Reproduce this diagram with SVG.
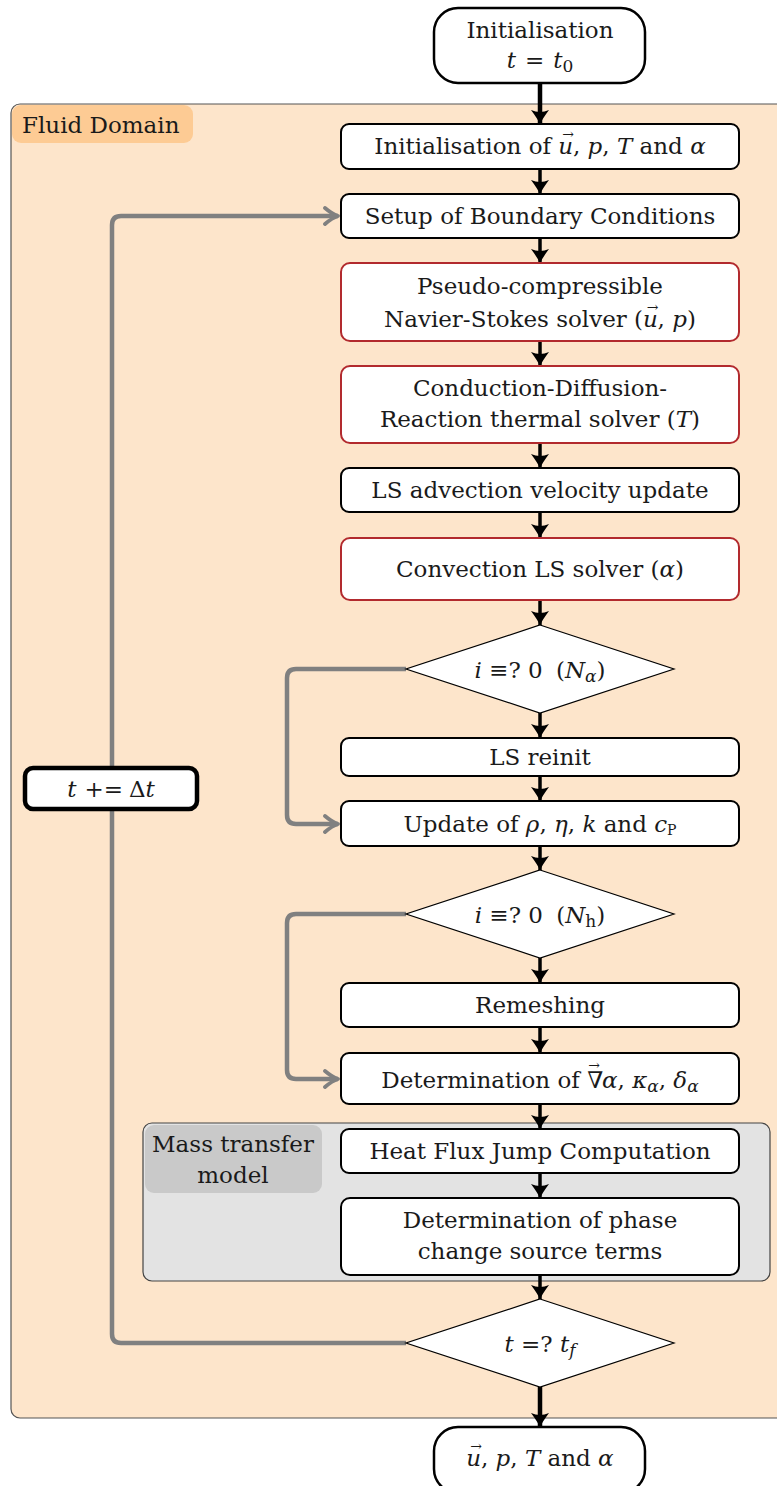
<svg xmlns="http://www.w3.org/2000/svg" width="777" height="1486" viewBox="0 0 777 1486">
<style>
text{font-family:"DejaVu Serif","Liberation Serif",serif;font-size:23px;fill:#1a1a1a;text-anchor:middle}
.i{font-style:italic}
.v{font-size:14px;font-style:normal}
.box{fill:#fff;stroke:#000;stroke-width:2}
.red{fill:#fff;stroke:#b22a2e;stroke-width:2}
.dia{fill:#fff;stroke:#000;stroke-width:1.2}
.arr{stroke:#000;stroke-width:3.5;fill:none;marker-end:url(#ah)}
.loop{stroke:#808080;stroke-width:4.5;fill:none;stroke-linejoin:round;marker-end:url(#gh)}
</style>
<defs>
<marker id="ah" markerUnits="userSpaceOnUse" markerWidth="16" markerHeight="20" viewBox="0 0 16 20" refX="14" refY="10" orient="auto">
<path d="M0,1 Q8,7 14,10 Q8,13 0,19 Q4,10 0,1 Z" fill="#000"/>
</marker>
<marker id="gh" markerUnits="userSpaceOnUse" markerWidth="18" markerHeight="20" viewBox="0 0 18 20" refX="16" refY="10" orient="auto">
<path d="M3,2 Q10,8 16,10 Q10,12 3,18" fill="none" stroke="#808080" stroke-width="3.8" stroke-linecap="round" stroke-linejoin="round"/>
</marker>
</defs>

<g id="fluid-domain">
<rect x="11" y="104" width="780" height="1314" rx="9" fill="#fde5cb" stroke="#555" stroke-width="1.2"/>
<rect x="12" y="105" width="181" height="38" rx="9" fill="#fdcb94"/>
<text x="22" y="133" style="text-anchor:start">Fluid Domain</text>
</g>

<g id="mass-transfer">
<rect x="143" y="1123" width="627" height="158" rx="9" fill="#e3e3e3" stroke="#444" stroke-width="1.2"/>
<rect x="145" y="1125" width="177" height="68" rx="9" fill="#c9c9c9"/>
<text x="233" y="1152">Mass transfer</text>
<text x="233" y="1183">model</text>
</g>

<g id="connectors">
<line class="arr" x1="540" y1="83" x2="540" y2="124" style="stroke-width:4.5"/>
<line class="arr" x1="540" y1="169" x2="540" y2="194"/>
<line class="arr" x1="540" y1="238" x2="540" y2="263"/>
<line class="arr" x1="540" y1="341" x2="540" y2="366"/>
<line class="arr" x1="540" y1="443" x2="540" y2="468"/>
<line class="arr" x1="540" y1="512" x2="540" y2="538"/>
<line class="arr" x1="540" y1="600" x2="540" y2="625"/>
<line class="arr" x1="540" y1="713" x2="540" y2="738"/>
<line class="arr" x1="540" y1="776" x2="540" y2="801"/>
<line class="arr" x1="540" y1="846" x2="540" y2="870"/>
<line class="arr" x1="540" y1="958" x2="540" y2="983"/>
<line class="arr" x1="540" y1="1027" x2="540" y2="1053"/>
<line class="arr" x1="540" y1="1104" x2="540" y2="1129"/>
<line class="arr" x1="540" y1="1173" x2="540" y2="1198"/>
<line class="arr" x1="540" y1="1275" x2="540" y2="1299"/>
<line class="arr" x1="540" y1="1387" x2="540" y2="1427" style="stroke-width:4.5"/>
<path class="loop" d="M406,669 H296 Q287,669 287,678 V815 Q287,824 296,824 H338"/>
<path class="loop" d="M406,914 H296 Q287,914 287,923 V1070 Q287,1079 296,1079 H338"/>
<path class="loop" d="M406,1343 H121 Q112,1343 112,1334 V225 Q112,216 121,216 H338"/>
</g>

<g id="init">
<rect x="434" y="8" width="211" height="75" rx="24" fill="#fff" stroke="#000" stroke-width="2.5"/>
<text x="540" y="38">Initialisation</text>
<text x="540" y="68"><tspan class="i">t</tspan><tspan dx="9">=</tspan><tspan class="i" dx="9">t</tspan><tspan font-size="17" dy="4">0</tspan></text>
</g>

<g id="init-fields">
<rect class="box" x="341" y="124" width="398" height="45" rx="8"/>
<text x="540" y="154">Initialisation of <tspan class="i">u</tspan><tspan class="v" dx="-11" dy="-15">→</tspan><tspan dx="-1" dy="15">, </tspan><tspan class="i">p</tspan>, <tspan class="i">T</tspan> and <tspan class="i">α</tspan></text>
</g>

<g id="bc">
<rect class="box" x="341" y="194" width="398" height="44" rx="8"/>
<text x="540" y="224">Setup of Boundary Conditions</text>
</g>

<g id="ns">
<rect class="red" x="341" y="263" width="398" height="78" rx="9"/>
<text x="540" y="294">Pseudo-compressible</text>
<text x="540" y="327">Navier-Stokes solver (<tspan class="i">u</tspan><tspan class="v" dx="-11" dy="-15">→</tspan><tspan dx="-1" dy="15">, </tspan><tspan class="i">p</tspan>)</text>
</g>

<g id="thermal">
<rect class="red" x="341" y="366" width="398" height="77" rx="9"/>
<text x="540" y="396">Conduction-Diffusion-</text>
<text x="540" y="427">Reaction thermal solver (<tspan class="i">T</tspan>)</text>
</g>

<g id="ls-adv">
<rect class="box" x="341" y="468" width="398" height="44" rx="8"/>
<text x="540" y="498">LS advection velocity update</text>
</g>

<g id="ls-conv">
<rect class="red" x="341" y="538" width="398" height="62" rx="9"/>
<text x="540" y="577">Convection LS solver (<tspan class="i">α</tspan>)</text>
</g>

<g id="dec-alpha">
<polygon class="dia" points="540,625 674,669 540,713 406,669"/>
<text x="540" y="678"><tspan class="i">i</tspan> ≡? 0 <tspan dx="6">(</tspan><tspan class="i">N</tspan><tspan class="i" font-size="17" dy="4">α</tspan><tspan dy="-4">)</tspan></text>
</g>

<g id="ls-reinit">
<rect class="box" x="341" y="738" width="398" height="38" rx="8"/>
<text x="540" y="765">LS reinit</text>
</g>

<g id="update">
<rect class="box" x="341" y="801" width="398" height="45" rx="8"/>
<text x="540" y="832">Update of <tspan class="i">ρ</tspan>, <tspan class="i">η</tspan>, <tspan class="i">k</tspan> and <tspan class="i">c</tspan><tspan font-size="14" dy="3">P</tspan></text>
</g>

<g id="dec-h">
<polygon class="dia" points="540,870 674,914 540,958 406,914"/>
<text x="540" y="923"><tspan class="i">i</tspan> ≡? 0 <tspan dx="6">(</tspan><tspan class="i">N</tspan><tspan font-size="17" dy="4">h</tspan><tspan dy="-4">)</tspan></text>
</g>

<g id="remesh">
<rect class="box" x="341" y="983" width="398" height="44" rx="8"/>
<text x="540" y="1013">Remeshing</text>
</g>

<g id="grad">
<rect class="box" x="341" y="1053" width="398" height="51" rx="8"/>
<text x="540" y="1088">Determination of ∇<tspan class="v" dx="-15" dy="-18">→</tspan><tspan class="i" dx="2" dy="18">α</tspan>, <tspan class="i">κ</tspan><tspan class="i" font-size="17" dy="4">α</tspan><tspan dy="-4">, </tspan><tspan class="i">δ</tspan><tspan class="i" font-size="17" dy="4">α</tspan></text>
</g>

<g id="heat-flux">
<rect class="box" x="341" y="1129" width="398" height="44" rx="8"/>
<text x="540" y="1159">Heat Flux Jump Computation</text>
</g>

<g id="source">
<rect class="box" x="341" y="1198" width="398" height="77" rx="9"/>
<text x="540" y="1228">Determination of phase</text>
<text x="540" y="1259">change source terms</text>
</g>

<g id="dec-t">
<polygon class="dia" points="540,1299 674,1343 540,1387 406,1343"/>
<text x="540" y="1352"><tspan class="i">t</tspan> =? <tspan class="i">t</tspan><tspan class="i" font-size="17" dy="4">f</tspan></text>
</g>

<g id="step">
<rect x="25" y="768" width="172" height="41" rx="8" fill="#fff" stroke="#000" stroke-width="4.5"/>
<text x="111" y="797"><tspan class="i">t</tspan><tspan dx="8">+=</tspan><tspan dx="6">Δ</tspan><tspan class="i">t</tspan></text>
</g>

<g id="output">
<rect x="434" y="1427" width="211" height="66" rx="24" fill="#fff" stroke="#000" stroke-width="2.5"/>
<text x="540" y="1466"><tspan class="i">u</tspan><tspan class="v" dx="-11" dy="-15">→</tspan><tspan dx="-1" dy="15">, </tspan><tspan class="i">p</tspan>, <tspan class="i">T</tspan> and <tspan class="i">α</tspan></text>
</g>
</svg>
